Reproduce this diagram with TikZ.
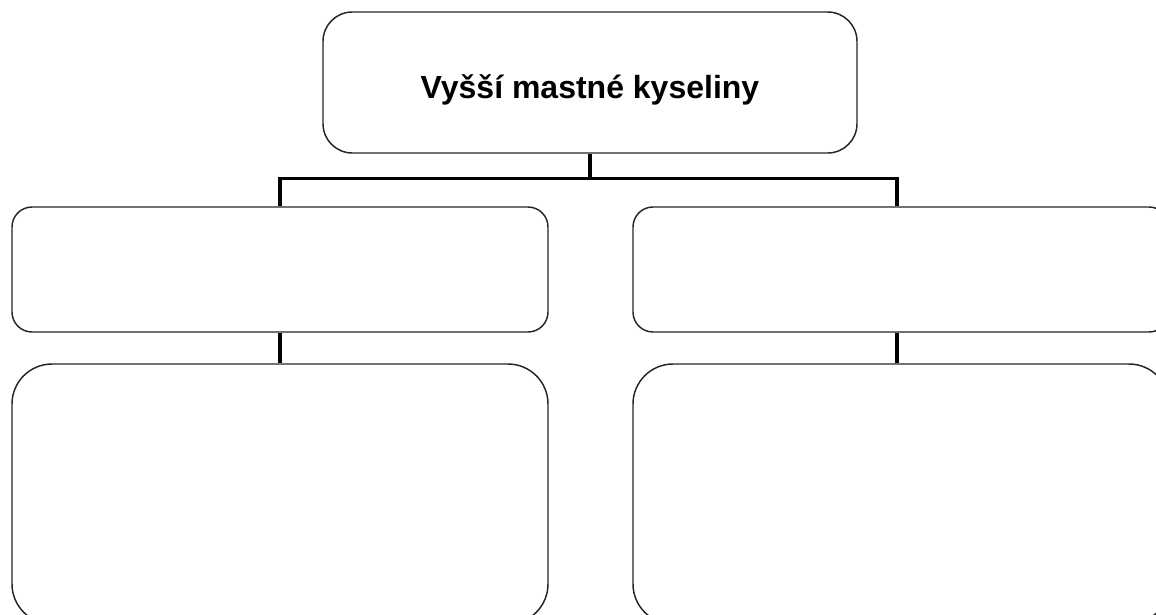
\documentclass[tikz,border=0pt]{standalone}
\usepackage{fontspec}
\setmainfont{Liberation Sans}
\begin{document}
\begin{tikzpicture}[x=0.75pt,y=-0.75pt,
  box/.style={draw=black!85, line width=1.1pt, fill=white, inner sep=0pt, minimum width=402pt},
  conn/.style={draw=black, line width=2.4pt}]
\useasboundingbox (0,0) rectangle (1156,614);
\clip (0,0) rectangle (1156,614);
\node[box, rounded corners=22pt, minimum width=400.5pt, minimum height=105.75pt,
      text height=29pt, text depth=5pt,
      font=\bfseries\fontsize{24}{28}\selectfont] (top) at (590,82.5) {Vyšší mastné kyseliny};
\node[box, rounded corners=15pt, minimum height=93.75pt] (lm) at (280,269.5) {};
\node[box, rounded corners=15pt, minimum height=93.75pt] (rm) at (901,269.5) {};
\node[box, rounded corners=30pt, minimum height=195pt] (lb) at (280,494) {};
\node[box, rounded corners=30pt, minimum height=195pt] (rb) at (901,494) {};
\coordinate (rx) at (897,0);
\draw[conn] (top.south) -- ++(0,25) coordinate (j);
\draw[conn] (lm.north) |- (j) -| (rm.north -| rx);
\draw[conn] (lm.south) -- (lb.north);
\draw[conn] (rm.south -| rx) -- (rb.north -| rx);
\end{tikzpicture}
\end{document}
